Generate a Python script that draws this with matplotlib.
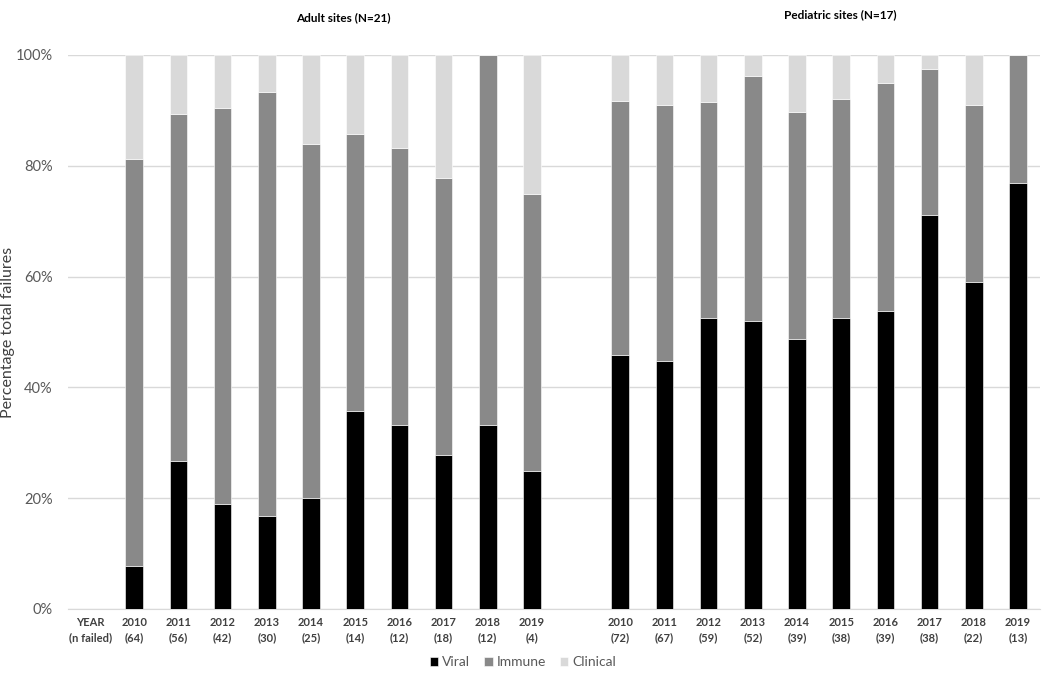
"""
Stacked 100% bars of failure type by year, adult vs pediatric sites.
"""

import matplotlib
matplotlib.use('Agg')
import matplotlib.pyplot as plt
import numpy as np

plt.rcParams['font.family'] = ['Lato', 'DejaVu Sans']

# Data (percent of total failures)
YEARS = ['2010', '2011', '2012', '2013', '2014', '2015', '2016', '2017', '2018', '2019']

ADULT_N = [64, 56, 42, 30, 25, 14, 12, 18, 12, 4]
ADULT_VIRAL = [7.8, 26.8, 19.0, 16.7, 20.0, 35.7, 33.3, 27.8, 33.3, 25.0]
ADULT_IMMUNE = [73.5, 62.5, 71.5, 76.6, 64.0, 50.0, 50.0, 50.0, 66.7, 50.0]
ADULT_CLINICAL = [18.7, 10.7, 9.5, 6.7, 16.0, 14.3, 16.7, 22.2, 0.0, 25.0]

PEDS_N = [72, 67, 59, 52, 39, 38, 39, 38, 22, 13]
PEDS_VIRAL = [45.8, 44.8, 52.5, 51.9, 48.7, 52.6, 53.8, 71.1, 59.1, 76.9]
PEDS_IMMUNE = [45.9, 46.2, 39.0, 44.3, 41.0, 39.5, 41.1, 26.3, 31.8, 23.1]
PEDS_CLINICAL = [8.3, 9.0, 8.5, 3.8, 10.3, 7.9, 5.1, 2.6, 9.1, 0.0]

SERIES = ['Viral', 'Immune', 'Clinical']
COLORS = ['#000000', '#898989', '#d9d9d9']

# Slot layout: 0 = "YEAR" label, 1-10 adult, 11 blank, 12-21 pediatric
adult_x = np.arange(1, 11)
peds_x = np.arange(12, 22)

fig = plt.figure(figsize=(10.5, 6.77), dpi=100)
ax = fig.add_axes([68 / 1050, 1 - 609 / 677, (1040 - 68) / 1050, (609 - 55) / 677])

width = 0.4
for xs, parts in [(adult_x, [ADULT_VIRAL, ADULT_IMMUNE, ADULT_CLINICAL]),
                  (peds_x, [PEDS_VIRAL, PEDS_IMMUNE, PEDS_CLINICAL])]:
    bottom = np.zeros(len(xs))
    for name, vals, col in zip(SERIES, parts, COLORS):
        vals = np.array(vals)
        ax.bar(xs, vals, width, bottom=bottom, color=col, edgecolor='#ffffff',
               linewidth=0.4, label=name if xs[0] == 1 else None, zorder=3)
        bottom += vals

ax.set_xlim(-0.5, 21.5)
ax.set_ylim(0, 100)

ax.set_yticks(range(0, 101, 20))
ax.set_yticklabels([f'{v}%' for v in range(0, 101, 20)], fontsize=10.5, color='#595959')
ax.yaxis.grid(True, color='#d9d9d9', linewidth=1, zorder=0)
ax.set_axisbelow(True)

ticks = [0] + list(adult_x) + list(peds_x)
labels = ['YEAR\n(n failed)'] + [f'{y}\n({n})' for y, n in zip(YEARS, ADULT_N)] \
    + [f'{y}\n({n})' for y, n in zip(YEARS, PEDS_N)]
ax.set_xticks(ticks)
ax.set_xticklabels(labels, fontsize=8, fontweight='bold', color='#404040', linespacing=1.45)
ax.tick_params(axis='both', length=0)
ax.tick_params(axis='x', pad=6)
ax.tick_params(axis='y', pad=11)

for side in ['top', 'right', 'left']:
    ax.spines[side].set_visible(False)
ax.spines['bottom'].set_color('#d9d9d9')

ax.set_ylabel('Percentage total failures', fontsize=11.5, color='#404040')
ax.yaxis.set_label_coords((15 - 68) / 972, 0.5)

fig.text(343 / 1050, 1 - 18 / 677, 'Adult sites (N=21)', ha='center', va='center',
         fontsize=8.5, fontweight='bold', color='#000000')
fig.text(840 / 1050, 1 - 15 / 677, 'Pediatric sites (N=17)', ha='center', va='center',
         fontsize=8.5, fontweight='bold', color='#000000')

leg = fig.legend(loc='center', bbox_to_anchor=(523 / 1050, 1 - 662 / 677), ncol=3,
                 frameon=False, fontsize=10, handlelength=0.6, handleheight=0.6,
                 handletextpad=0.3, columnspacing=1.0)
for t in leg.get_texts():
    t.set_color('#595959')

fig.savefig('out.png', dpi=100)
